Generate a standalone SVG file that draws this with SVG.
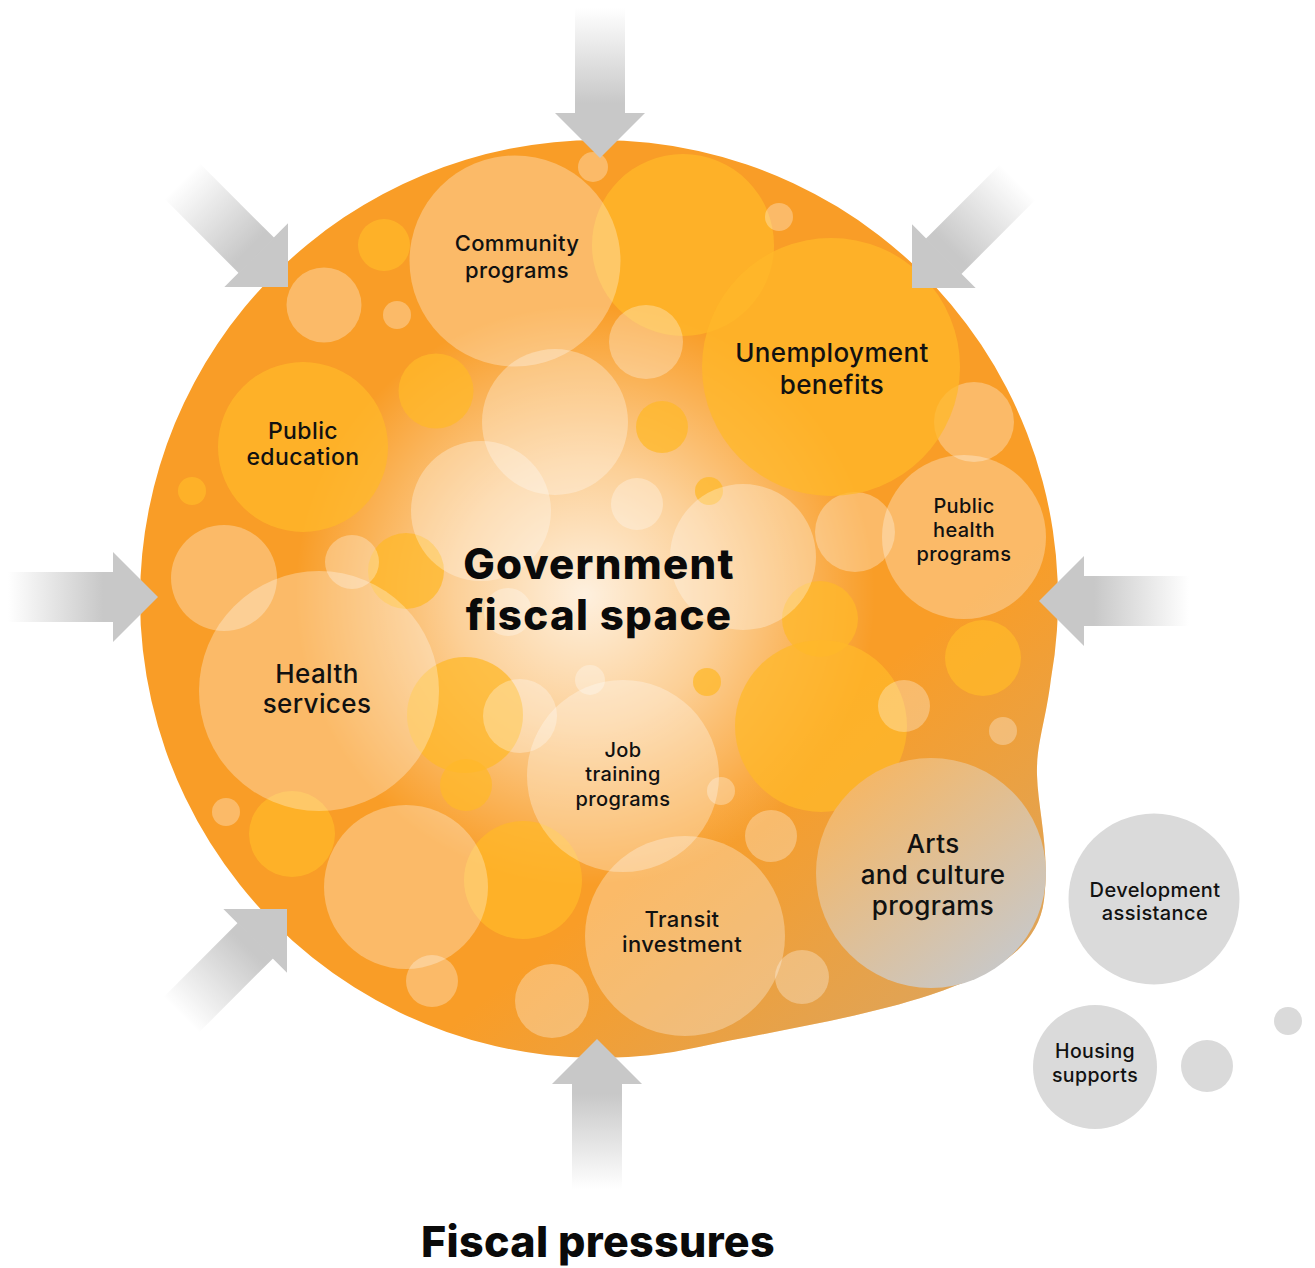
<svg xmlns="http://www.w3.org/2000/svg" width="1315" height="1268" viewBox="0 0 1315 1268">
  <defs>
    <style>
      .lt { fill: #ffffff; fill-opacity: 0.3; }
      .yl { fill: #ffb829; fill-opacity: 0.75; }
      .gr { fill: #dadada; }
      .lbl { font-family: Inter, "Noto Sans", "Open Sans", sans-serif; font-weight: 500; fill: #111111; text-anchor: middle; letter-spacing: 0.4px; }
      .ttl { font-family: Inter, "Noto Sans", "Open Sans", sans-serif; font-weight: 800; fill: #0a0a0a; text-anchor: middle; }
      .arrow-head { fill: #c8c8c8; }
    </style>
    <linearGradient id="shaftGrad" gradientUnits="userSpaceOnUse" x1="-150" y1="0" x2="-55" y2="0">
      <stop offset="0" stop-color="#ffffff"/>
      <stop offset="1" stop-color="#c8c8c8"/>
    </linearGradient>
    <radialGradient id="glow" gradientUnits="userSpaceOnUse" cx="585" cy="595" r="290">
      <stop offset="0" stop-color="#ffffff" stop-opacity="0.85"/>
      <stop offset="0.45" stop-color="#ffffff" stop-opacity="0.52"/>
      <stop offset="1" stop-color="#ffffff" stop-opacity="0"/>
    </radialGradient>
    <linearGradient id="dusk" gradientUnits="userSpaceOnUse" x1="820" y1="720" x2="1060" y2="1010">
      <stop offset="0" stop-color="#b0b0b0" stop-opacity="0"/>
      <stop offset="1" stop-color="#b0b0b0" stop-opacity="0.45"/>
    </linearGradient>
    <linearGradient id="artsGrad" x1="0.2" y1="0.1" x2="0.85" y2="0.9">
      <stop offset="0" stop-color="#f4b768"/>
      <stop offset="1" stop-color="#c8c8c8"/>
    </linearGradient>
    <path id="blobPath" d="M 599,140 A 459 459 0 0 1 1050.8,680 C 1046,720 1036,745 1037,775 C 1038,810 1050,850 1044,900 C 1038,950 990,975 930,995 C 860,1018 770,1032 700,1046.7 A 459 459 0 0 1 140,599 A 459 459 0 0 1 599,140 Z"/>
    <clipPath id="blobClip"><use href="#blobPath"/></clipPath>
    <g id="arrow">
      <rect x="-150" y="-25" width="105.5" height="50" fill="url(#shaftGrad)"/>
      <polygon class="arrow-head" points="-45,-45 0,0 -45,45"/>
    </g>
  </defs>

  <!-- main blob -->
  <g id="fiscal-space-blob">
    <use href="#blobPath" fill="#f99d27"/>
    <g clip-path="url(#blobClip)">
      <rect x="130" y="130" width="940" height="940" fill="url(#glow)"/>
      <rect x="130" y="130" width="940" height="940" fill="url(#dusk)"/>
    </g>
  </g>

  <!-- decorative bubbles -->
  <g id="bubbles">
    <circle class="yl" cx="683" cy="245" r="91"/>
    <circle class="yl" cx="384" cy="245" r="26"/>
    <circle class="yl" cx="436" cy="391" r="37.5"/>
    <circle class="yl" cx="192" cy="491" r="14"/>
    <circle class="yl" cx="406" cy="571" r="38"/>
    <circle class="yl" cx="662" cy="427" r="26"/>
    <circle class="yl" cx="709" cy="491" r="14"/>
    <circle class="yl" cx="820" cy="619" r="38"/>
    <circle class="yl" cx="983" cy="658" r="38"/>
    <circle class="yl" cx="821" cy="726" r="86"/>
    <circle class="yl" cx="292" cy="834" r="43"/>
    <circle class="yl" cx="523" cy="880" r="59"/>
    <circle class="yl" cx="466" cy="785" r="26"/>
    <circle class="yl" cx="465" cy="715" r="58"/>
    <circle class="yl" cx="707" cy="682" r="14"/>

    <circle class="lt" cx="593" cy="167" r="15"/>
    <circle class="lt" cx="555" cy="422" r="73"/>
    <circle class="lt" cx="481" cy="511" r="70"/>
    <circle class="lt" cx="743" cy="557" r="73"/>
    <circle class="lt" cx="406" cy="887" r="82"/>
    <circle class="lt" cx="324" cy="305" r="37.5"/>
    <circle class="lt" cx="397" cy="315" r="14"/>
    <circle class="lt" cx="224" cy="578" r="53"/>
    <circle class="lt" cx="352" cy="562" r="27"/>
    <circle class="lt" cx="520" cy="716" r="37"/>
    <circle class="lt" cx="226" cy="812" r="14"/>
    <circle class="lt" cx="432" cy="981" r="26"/>
    <circle class="lt" cx="552" cy="1001" r="37"/>
    <circle class="lt" cx="646" cy="342" r="37"/>
    <circle class="lt" cx="637" cy="504" r="26"/>
    <circle class="lt" cx="779" cy="217" r="14"/>
    <circle class="lt" cx="974" cy="422" r="40"/>
    <circle class="lt" cx="855" cy="532" r="40"/>
    <circle class="lt" cx="904" cy="706" r="26"/>
    <circle class="lt" cx="1003" cy="731" r="14"/>
    <circle class="lt" cx="771" cy="836" r="26"/>
    <circle class="lt" cx="802" cy="977" r="27"/>
    <circle class="lt" cx="721" cy="791" r="14"/>
    <circle class="lt" cx="590" cy="680" r="15"/>
    <circle class="lt" cx="508" cy="612" r="24"/>
  </g>

  <!-- labelled nodes -->
  <g id="node-community-programs">
    <circle class="lt" cx="515" cy="261" r="105.5"/>
    <text class="lbl" font-size="22" x="517" y="251">Community</text>
    <text class="lbl" font-size="22" x="517" y="278">programs</text>
  </g>
  <g id="node-unemployment-benefits">
    <circle class="yl" cx="831" cy="367" r="129"/>
    <text class="lbl" font-size="26" x="832" y="362">Unemployment</text>
    <text class="lbl" font-size="26" x="832" y="394">benefits</text>
  </g>
  <g id="node-public-education">
    <circle class="yl" cx="303" cy="447" r="85"/>
    <text class="lbl" font-size="23" x="303" y="439">Public</text>
    <text class="lbl" font-size="23" x="303" y="465">education</text>
  </g>
  <g id="node-public-health-programs">
    <circle class="lt" cx="964" cy="537" r="82"/>
    <text class="lbl" font-size="20" x="964" y="513">Public</text>
    <text class="lbl" font-size="20" x="964" y="537">health</text>
    <text class="lbl" font-size="20" x="964" y="561">programs</text>
  </g>
  <g id="node-health-services">
    <circle class="lt" cx="319" cy="691" r="120"/>
    <text class="lbl" font-size="26" x="317" y="683">Health</text>
    <text class="lbl" font-size="26" x="317" y="713">services</text>
  </g>
  <g id="node-job-training-programs">
    <circle class="lt" cx="623" cy="776" r="96"/>
    <text class="lbl" font-size="20" x="623" y="757">Job</text>
    <text class="lbl" font-size="20" x="623" y="781">training</text>
    <text class="lbl" font-size="20" x="623" y="806">programs</text>
  </g>
  <g id="node-transit-investment">
    <circle class="lt" cx="685" cy="936" r="100"/>
    <text class="lbl" font-size="22" x="682" y="927">Transit</text>
    <text class="lbl" font-size="22" x="682" y="952">investment</text>
  </g>
  <g id="node-arts-culture-programs">
    <circle cx="931" cy="873" r="115" fill="url(#artsGrad)"/>
    <text class="lbl" font-size="26" x="933" y="853">Arts</text>
    <text class="lbl" font-size="26" x="933" y="884">and culture</text>
    <text class="lbl" font-size="26" x="933" y="915">programs</text>
  </g>
  <g id="node-development-assistance">
    <circle class="gr" cx="1154" cy="899" r="85.5"/>
    <text class="lbl" font-size="20" x="1155" y="897">Development</text>
    <text class="lbl" font-size="20" x="1155" y="920">assistance</text>
  </g>
  <g id="node-housing-supports">
    <circle class="gr" cx="1095" cy="1067" r="62"/>
    <text class="lbl" font-size="19.5" x="1095" y="1058">Housing</text>
    <text class="lbl" font-size="19.5" x="1095" y="1082">supports</text>
  </g>
  <g id="outside-bubbles">
    <circle class="gr" cx="1207" cy="1066" r="26"/>
    <circle class="gr" cx="1288" cy="1021" r="14"/>
  </g>

  <g id="node-government-fiscal-space">
    <text class="ttl" font-size="42" letter-spacing="1.3" x="599" y="579">Government</text>
    <text class="ttl" font-size="42" letter-spacing="1.3" x="599" y="630">fiscal space</text>
  </g>

  <!-- pressure arrows -->
  <g id="connectors">
    <use href="#arrow" transform="translate(600,158) rotate(90)"/>
    <use href="#arrow" transform="translate(288,287) rotate(45)"/>
    <use href="#arrow" transform="translate(912,288) rotate(135)"/>
    <use href="#arrow" transform="translate(158,597)"/>
    <use href="#arrow" transform="translate(1039,601) rotate(180)"/>
    <use href="#arrow" transform="translate(287,909) rotate(-45)"/>
    <use href="#arrow" transform="translate(597,1039) rotate(-90)"/>
  </g>

  <g id="node-fiscal-pressures">
    <text class="ttl" font-size="43" letter-spacing="0.3" x="598" y="1257">Fiscal pressures</text>
  </g>
</svg>
